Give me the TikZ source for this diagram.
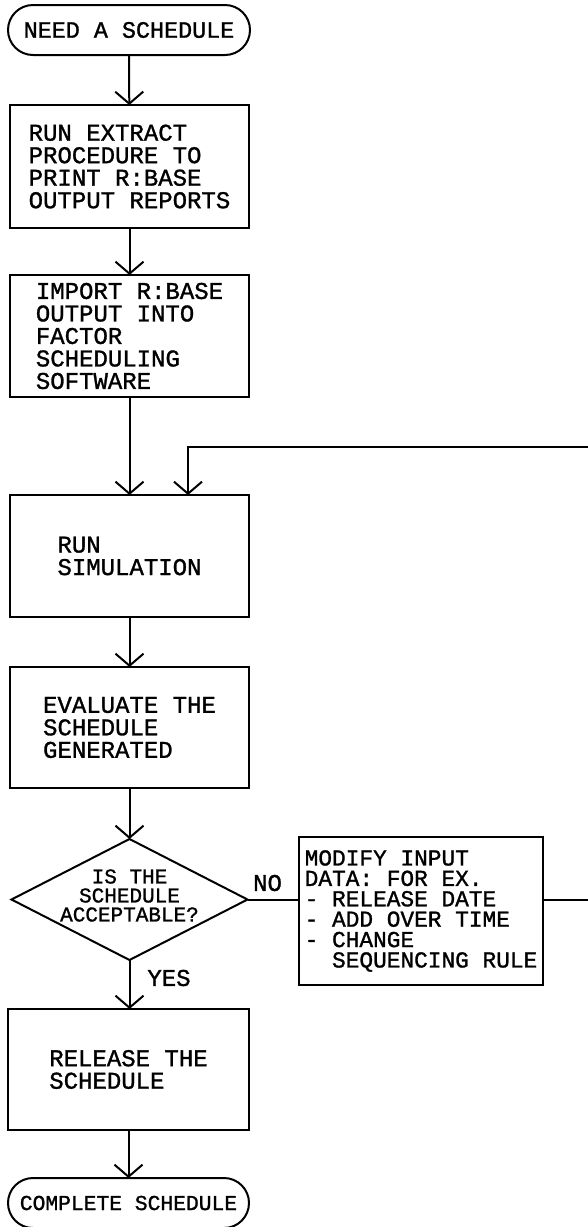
\documentclass[tikz,border=0pt]{standalone}
\usepackage{fontspec}
\newfontfamily\plotfont[FakeBold=1.2]{Liberation Mono}
\usetikzlibrary{arrows.meta,shapes.geometric}
\begin{document}
\begin{tikzpicture}[x=1pt,y=-1pt,
  every node/.style={inner sep=0pt, outer sep=0pt},
  ln/.style={line width=2pt},
  bigtxt/.style={font=\plotfont\fontsize{24}{22.5}\selectfont},
  proc/.style={ln, draw, rectangle, minimum width=239pt, align=left, bigtxt},
  term/.style={ln, draw, rectangle, rounded corners=25pt, minimum height=50pt, align=center},
  arr/.style={ln, -{Straight Barb[length=12pt,width=28pt,line width=2pt]}},
  lbl/.style={bigtxt}
]
\fill[white] (0,0) rectangle (587,1227);
\useasboundingbox (0,0) rectangle (587,1227);

\node[term, minimum width=242pt, font=\plotfont\fontsize{23.4}{24}\selectfont] (start) at (129,30) {NEED A SCHEDULE};
\node[proc, minimum height=123pt] (box1) at (129.5,166.5) {RUN EXTRACT\\PROCEDURE TO\\PRINT R:BASE\\OUTPUT REPORTS};
\node[proc, minimum height=122pt] (box2) at (129.5,336) {IMPORT R:BASE\\OUTPUT INTO\\FACTOR\\SCHEDULING\\SOFTWARE};
\node[proc, minimum height=122pt] (box3) at (129.5,556) {RUN\\SIMULATION};
\node[proc, minimum height=121pt] (box4) at (129.5,727.5) {EVALUATE THE\\SCHEDULE\\GENERATED};
\node[ln, draw, diamond, minimum width=236pt, minimum height=121pt,
  label={[align=center, font=\plotfont\fontsize{21}{19}\selectfont, yshift=4pt]center:IS THE\\SCHEDULE\\ACCEPTABLE?}] (dec) at (129.5,899.5) {};
\node[ln, draw, rectangle, minimum width=244pt, minimum height=148pt, align=left,
  font=\plotfont\fontsize{22.8}{20.4}\selectfont] (mod) at (421,911)
  {MODIFY INPUT\\DATA: FOR EX.\\- RELEASE DATE\\- ADD OVER TIME\\- CHANGE\\\phantom{-~}SEQUENCING RULE};
\node[proc, minimum width=241pt, minimum height=121pt] (box5) at (128.5,1069.5) {RELEASE THE\\SCHEDULE};
\node[term, minimum width=241pt, font=\plotfont\fontsize{21.3}{24}\selectfont] (end) at (128.5,1203) {COMPLETE SCHEDULE};

\node[lbl] (no) at (267.5,883) {NO};
\node[lbl] (yes) at (169,978) {YES};

\draw[arr] (start) -- (box1);
\draw[arr] (box1) -- (box2);
\draw[arr] (box2) -- (box3);
\draw[arr] (box3) -- (box4);
\draw[arr] (box4) -- (dec);
\draw[ln] (dec.east) -- (mod.west |- dec.east);
\draw[arr] (dec.south) -- (box5.north -| dec.south);
\draw[arr] (box5) -- (end);
\coordinate (turn) at (594,447);
\draw[arr] (mod.east |- dec.east) -| (turn) -| ([xshift=58.5pt]box3.north);
\end{tikzpicture}
\end{document}
